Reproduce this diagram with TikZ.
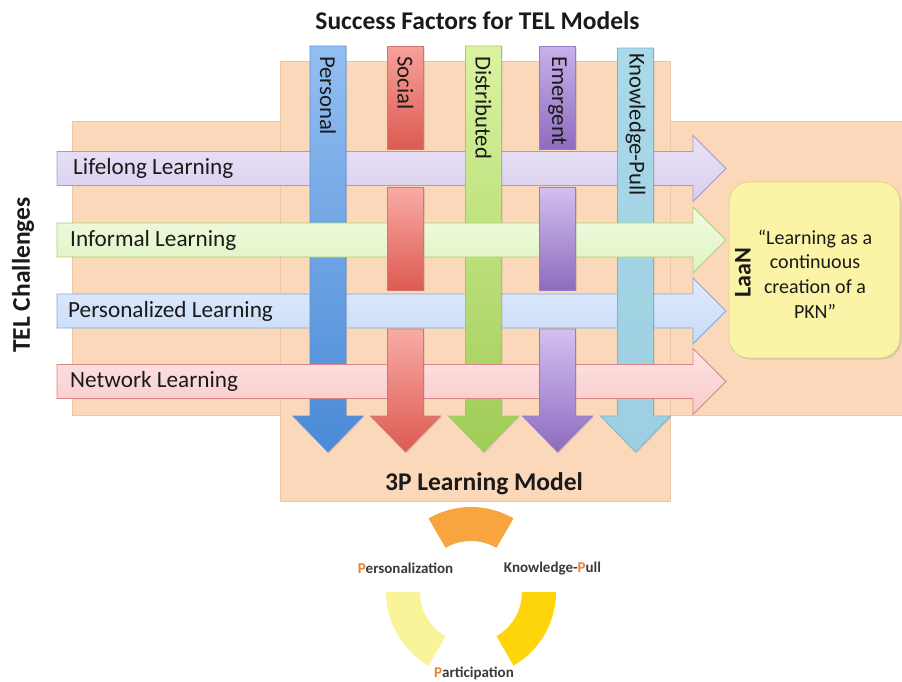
\documentclass[tikz,border=0pt]{standalone}
\usepackage{fontspec}
\setmainfont{Carlito}
\usetikzlibrary{shadows,calc}
\definecolor{peach}{HTML}{FBD8BA}
\definecolor{peachedge}{HTML}{EDC6A6}
\definecolor{txt}{HTML}{1A1A1A}
\definecolor{cyctxt}{HTML}{3A3A3A}
\definecolor{pOrange}{HTML}{E8812F}
\definecolor{arcTop}{HTML}{F9A53F}
\definecolor{arcLeft}{HTML}{F9F39A}
\definecolor{arcRight}{HTML}{FED40A}
\definecolor{laanfill}{HTML}{FBF4A6}
\definecolor{laanedge}{HTML}{E2D47E}
\tikzset{
  peachbox/.style={fill=peach, draw=peachedge, line width=0.6pt},
  colshadow/.style={drop shadow={opacity=0.22, shadow xshift=1.2pt, shadow yshift=-1.2pt}},
  hlabel/.style={anchor=west, inner sep=0pt, text=txt, font=\fontsize{23.2}{27}\selectfont},
  vlabel/.style={rotate=-90, anchor=west, inner sep=0pt, text=txt, font=\fontsize{22.7}{27}\selectfont},
  bigbold/.style={inner sep=0pt, text=txt, font=\fontsize{25.5}{30}\selectfont\bfseries},
  cyclabel/.style={inner sep=0pt, text=cyctxt, font=\fontsize{15}{18}\selectfont\bfseries},
}
% horizontal arrow: #1 y-centre, #2 top colour, #3 bottom colour, #4 border (HTML)
\newcommand{\HArrow}[4]{%
  \definecolor{hTop}{HTML}{#2}\definecolor{hBot}{HTML}{#3}\definecolor{hEdge}{HTML}{#4}%
  \path[top color=hTop, bottom color=hBot, draw=hEdge, line width=0.8pt]
    (57,#1-17) -- (693,#1-17) -- (693,#1-33) -- (726,#1) -- (693,#1+33)
    -- (693,#1+17) -- (57,#1+17) -- cycle;}
% vertical arrow: #1 x-centre, #2 top y, #3 top colour, #4 bottom colour, #5 border
\newcommand{\VArrow}[5]{%
  \definecolor{vTop}{HTML}{#3}\definecolor{vBot}{HTML}{#4}\definecolor{vEdge}{HTML}{#5}%
  \path[colshadow, top color=vTop, bottom color=vBot, draw=vEdge, line width=0.8pt]
    (#1-18,#2) -- (#1+18,#2) -- (#1+18,416) -- (#1+35,416) -- (#1,452)
    -- (#1-35,416) -- (#1-18,416) -- cycle;}
% vertical segment: #1 x-centre, #2 top y, #3 bottom y, #4 top colour, #5 bottom colour, #6 border
\newcommand{\VSeg}[6]{%
  \definecolor{sTop}{HTML}{#4}\definecolor{sBot}{HTML}{#5}\definecolor{sEdge}{HTML}{#6}%
  \path[colshadow, top color=sTop, bottom color=sBot, draw=sEdge, line width=0.8pt]
    (#1-18,#2) rectangle (#1+18,#3);}
\begin{document}
\begin{tikzpicture}[x=1pt,y=-1pt]
\useasboundingbox (0,0) rectangle (902,681);
% background panels
\path[peachbox] (72,121) rectangle (904,415);
\path[peachbox] (280,61) rectangle (670,501);
% arrows under the columns
\HArrow{168.5}{E9E3F6}{D8CFEE}{A898CF}
\HArrow{311}{E0EBFD}{C8DAF6}{84A9DC}
% continuous columns
\VArrow{328}{46}{93BEF1}{4A8AD7}{5B8FCF}
\VArrow{483.5}{46}{DAF3A0}{9FCC56}{A2C76A}
\VArrow{635.5}{48}{AAD9E9}{9DCFE0}{7FB2CF}
% arrows over the columns
\HArrow{240}{F1FBE1}{E0F3C1}{A9D16E}
\HArrow{381.5}{FEE4E4}{F9C9C9}{DB8582}
% segmented columns (Social, Emergent)
\VSeg{405.5}{46}{149}{F7A09A}{DD5B51}{CF766E}
\VSeg{405.5}{187}{290}{F9ABA6}{DD5B51}{CF766E}
\VArrow{405.5}{329}{F9ABA6}{DC5A50}{CF766E}
\VSeg{557.5}{46}{149}{C7B1EA}{8D6BBF}{957CC4}
\VSeg{557.5}{187}{290}{D3C0EF}{8D6BBF}{957CC4}
\VArrow{557.5}{329}{D3C0EF}{8D6BBF}{957CC4}
% labels
\node[bigbold] (title) at (477.5,21) {Success Factors for TEL Models};
\node[bigbold, rotate=90] (chall) at (23,275) {TEL Challenges};
\node[bigbold] (model) at (484,484) {3P Learning Model};
\node[hlabel] (lifelong) at (73,168.5) {Lifelong Learning};
\node[hlabel] (informal) at (70,240) {Informal Learning};
\node[hlabel] (personalized) at (68,311) {Personalized Learning};
\node[hlabel] (network) at (70,381.5) {Network Learning};
\node[vlabel] (personal) at (328,56) {Personal};
\node[vlabel] (social) at (405.5,56) {Social};
\node[vlabel] (distributed) at (483.5,56) {Distributed};
\node[vlabel] (emergent) at (557.5,56) {Emergent};
\node[vlabel] (kpull) at (635.5,53) {Knowledge-Pull};
% LaaN box
\node[draw=laanedge, line width=0.8pt, fill=laanfill, rounded corners=20pt,
      minimum width=171pt, minimum height=176pt,
      drop shadow={opacity=0.25, shadow xshift=1.5pt, shadow yshift=-1.5pt}] (laanbox) at (814.5,270) {};
\node[rotate=90, inner sep=0pt, text=txt, font=\fontsize{24}{28}\selectfont\bfseries] (laan) at (743,273) {LaaN};
\node[align=center, inner sep=0pt, text=txt, font=\fontsize{20}{24.7}\selectfont] (quote) at (815,274)
  {“Learning as a\\continuous\\creation of a\\PKN”};
% 3P cycle
\coordinate (cc) at (471,592);
\fill[arcTop] ($(cc)+(60:85pt)$) arc[start angle=60, end angle=120, radius=85pt]
  -- ($(cc)+(120:51pt)$) arc[start angle=120, end angle=60, radius=51pt] -- cycle;
\fill[arcLeft] ($(cc)+(180:85pt)$) arc[start angle=180, end angle=240, radius=85pt]
  -- ($(cc)+(240:51pt)$) arc[start angle=240, end angle=180, radius=51pt] -- cycle;
\fill[arcRight] ($(cc)+(300:85pt)$) arc[start angle=300, end angle=360, radius=85pt]
  -- ($(cc)+(360:51pt)$) arc[start angle=360, end angle=300, radius=51pt] -- cycle;
\node[cyclabel] (pers) at (405.5,568) {\textcolor{pOrange}{P}ersonalization};
\node[cyclabel] (kp) at (552.5,568) {Knowledge-\textcolor{pOrange}{P}ull};
\node[cyclabel] (part) at (474,673) {\textcolor{pOrange}{P}articipation};
\end{tikzpicture}
\end{document}
